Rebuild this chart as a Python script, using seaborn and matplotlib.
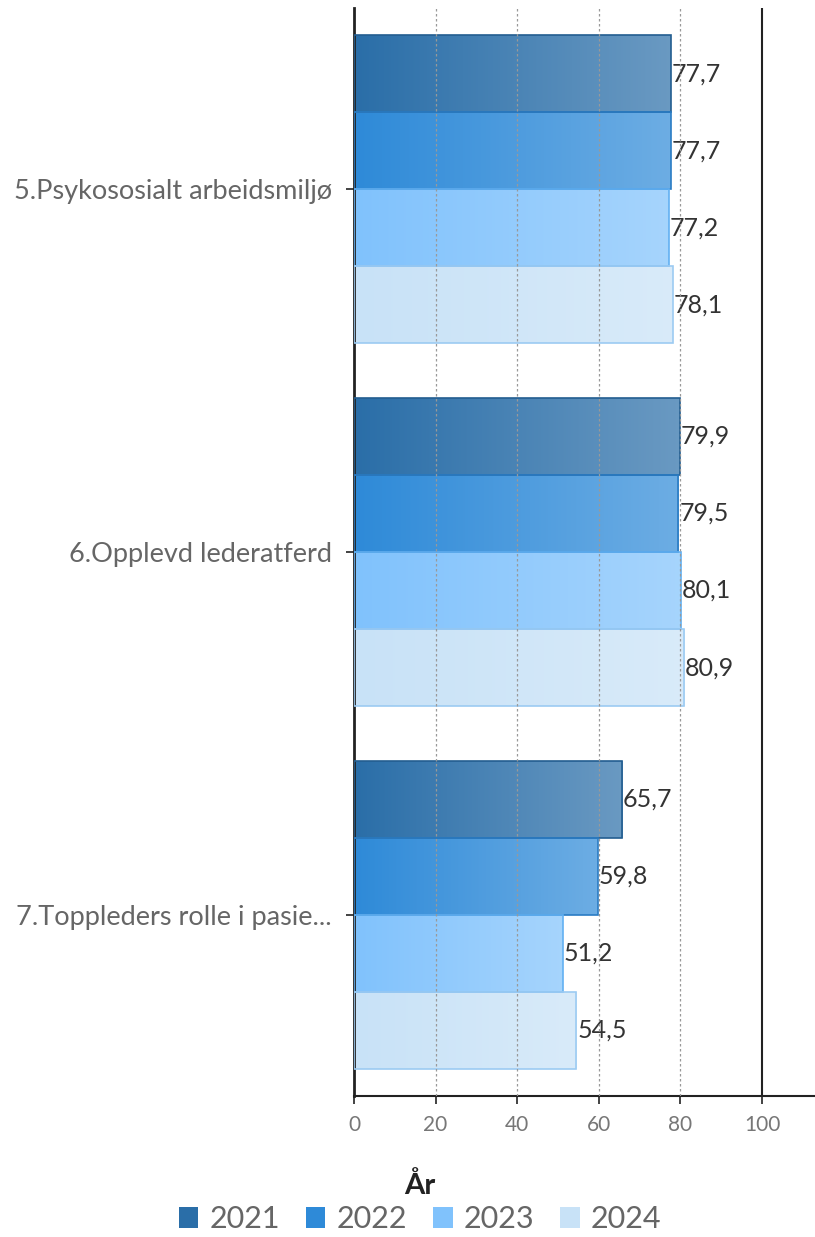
import numpy as np
import pandas as pd
import seaborn as sns
import matplotlib.pyplot as plt
from matplotlib.patches import Patch
from matplotlib.colors import to_rgb

# Data
kategorier = ['5.Psykososialt arbeidsmiljø', '6.Opplevd lederatferd', '7.Toppleders rolle i pasie...']
aar = ['2021', '2022', '2023', '2024']
verdi_2021 = [77.7, 79.9, 65.7]
verdi_2022 = [77.7, 79.5, 59.8]
verdi_2023 = [77.2, 80.1, 51.2]
verdi_2024 = [78.1, 80.9, 54.5]

farger = ['#2a6ea8', '#2e8ad8', '#80c2fc', '#c8e2f7']
kantfarger = ['#235d90', '#2a7cc4', '#62b0f2', '#9ccbf2']

rows = []
for a, vals in zip(aar, [verdi_2021, verdi_2022, verdi_2023, verdi_2024]):
    for k, v in zip(kategorier, vals):
        rows.append({'kategori': k, 'aar': a, 'verdi': v})
df = pd.DataFrame(rows)

sns.set_style('white')
plt.rcParams['font.family'] = ['Lato', 'DejaVu Sans']

fig = plt.figure(figsize=(8.15, 12.37), dpi=100)
ax = fig.add_axes([354 / 815, 1 - 1096 / 1237, 1 - 354 / 815, (1096 - 8) / 1237])

sns.barplot(data=df, y='kategori', x='verdi', hue='aar', orient='h',
            palette=farger, saturation=1, width=0.85, legend=False, ax=ax)

# gradient fill: base colour on the left, lighter towards the right
for i, cont in enumerate(ax.containers):
    base = np.array(to_rgb(farger[i]))
    light = base + 0.3 * (1 - base)
    grad = np.linspace(0, 1, 256)[None, :, None]
    img = base[None, None, :] * (1 - grad) + light[None, None, :] * grad
    for bar in cont:
        x0, y0 = bar.get_x(), bar.get_y()
        w, h = bar.get_width(), bar.get_height()
        bar.set_facecolor('none')
        bar.set_edgecolor(kantfarger[i])
        bar.set_linewidth(1.2)
        bar.set_zorder(3)
        im = ax.imshow(img, extent=[x0, x0 + w, y0 + h, y0], aspect='auto',
                       zorder=2, interpolation='bilinear')
        im.set_clip_path(bar)
        ax.text(x0 + w + 0.2, y0 + h / 2, f'{w:.1f}'.replace('.', ','),
                va='center', ha='left', fontsize=18, color='#333333')

ax.set_xlim(0, 113)
ax.set_ylim(2.5, -0.5)
ax.set_xticks([0, 20, 40, 60, 80, 100])
ax.set_xlabel('')
ax.set_ylabel('')

for xv in [20, 40, 60, 80]:
    ax.axvline(xv, color='#999999', linestyle=(0, (2, 2)), linewidth=0.9, zorder=4)
ax.axvline(100, color='#222222', linewidth=1.5, zorder=4)

for s in ['top', 'right']:
    ax.spines[s].set_visible(False)
ax.spines['left'].set_color('#222222')
ax.spines['left'].set_linewidth(2)
ax.spines['bottom'].set_color('#222222')
ax.spines['bottom'].set_linewidth(1.5)

ax.tick_params(axis='x', length=6, width=1.2, color='#222222', labelsize=15,
               labelcolor='#777777', pad=8, bottom=True)
ax.tick_params(axis='y', length=6, width=1.2, color='#222222', labelsize=19.5,
               labelcolor='#666666', pad=10, left=True)

handles = [Patch(facecolor=c, edgecolor='none') for c in farger]
leg = fig.legend(handles, aar, title='År', loc='upper center', ncol=4,
                 bbox_to_anchor=(0.515, 1 - 1160 / 1237), frameon=False,
                 fontsize=22, handlelength=0.65, handleheight=0.65,
                 handletextpad=0.35, columnspacing=0.85, borderaxespad=0,
                 labelspacing=0.2)
leg.get_title().set_fontsize(21)
leg.get_title().set_fontweight('bold')
leg.get_title().set_color('#222222')
for t in leg.get_texts():
    t.set_color('#666666')

fig.savefig('out.png', dpi=100)
